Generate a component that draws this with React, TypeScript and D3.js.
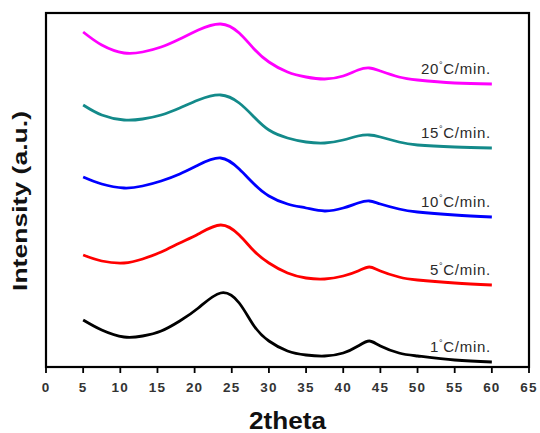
import * as d3 from 'd3';

// 2theta sample points (deg)
const twoTheta = [5, 7.5, 10.5, 13, 15.5, 18, 20.5, 23.5, 26, 28, 30, 32.5, 35, 37.5, 40, 42, 43.5, 45, 47.5, 50, 55, 60];

// stacked intensities (a.u.)
const rate1 = [47, 37, 30, 31, 36, 46, 59, 74, 64, 41, 26, 16, 12, 11, 14, 21, 26, 21, 14, 11, 7, 5];
const rate5 = [112, 106, 104, 108, 115, 124, 133, 142, 132, 116, 104, 94, 89, 88, 91, 96, 100, 96, 90, 87, 84, 82];
const rate10 = [190, 183, 179, 181, 186, 193, 202, 209, 198, 183, 171, 163, 159, 156, 159, 164, 166, 163, 158, 155, 152, 150];
const rate15 = [262, 252, 247, 248, 252, 259, 267, 272, 264, 250, 237, 229, 225, 224, 227, 231, 232, 230, 225, 222, 220, 219];
const rate20 = [335, 322, 314, 315, 320, 328, 337, 343, 334, 318, 305, 295, 290, 288, 291, 297, 299, 296, 290, 287, 284, 283];

const rates = ['1', '5', '10', '15', '20'];
const seriesValues = [rate1, rate5, rate10, rate15, rate20];
const colors = ['#000000', '#ff0000', '#0000ff', '#138a8a', '#ff00ff'];
const xTicks = d3.range(0, 66, 5);

export default function App() {
  const width = 540;
  const height = 433;
  const margin = { top: 13, right: 11, bottom: 66, left: 46 };

  const x = d3.scaleLinear().domain([0, 65]).range([margin.left, width - margin.right]);
  const y = d3.scaleLinear().domain([0, 354]).range([height - margin.bottom, margin.top]);

  const line = d3
    .line<number>()
    .x((_, i) => x(twoTheta[i]))
    .y((d) => y(d))
    .curve(d3.curveNatural);

  const x0 = margin.left;
  const x1 = width - margin.right;
  const y0 = height - margin.bottom;
  const y1 = margin.top;

  return (
    <svg
      width={width}
      height={height}
      style={{ position: 'absolute', left: 0, top: 0, background: '#fff' }}
      fontFamily="Arial, 'Liberation Sans', sans-serif"
    >
      {/* curves */}
      {seriesValues.map((vals, k) => (
        <path
          key={rates[k]}
          d={line(vals) ?? ''}
          fill="none"
          stroke={colors[k]}
          strokeWidth={2.8}
          strokeLinejoin="round"
        />
      ))}

      {/* labels */}
      {seriesValues.map((vals, k) => (
        <text
          key={'l' + rates[k]}
          x={x(60) - 1}
          y={y(vals[vals.length - 1]) - 10}
          textAnchor="end"
          fontSize={15}
          fill="#2a2a2a"
          letterSpacing={0.7}
        >
          {rates[k]}
          <tspan fontSize={9} dy={-6}>°</tspan>
          <tspan dy={6}>C/min.</tspan>
        </text>
      ))}

      {/* frame */}
      <rect x={x0} y={y1} width={x1 - x0} height={y0 - y1} fill="none" stroke="#000" strokeWidth={2.2} />

      {/* x ticks */}
      {xTicks.map((t) => (
        <g key={t}>
          <line x1={x(t)} x2={x(t)} y1={y0} y2={y0 + 6} stroke="#000" strokeWidth={1.8} />
          <text
            x={x(t)}
            y={y0 + 25}
            textAnchor="middle"
            fontSize={13.5}
            fontWeight="bold"
            fill="#333"
            letterSpacing={1.2}
          >
            {t}
          </text>
        </g>
      ))}

      {/* axis titles */}
      <text
        x={(x0 + x1) / 2}
        y={429}
        textAnchor="middle"
        fontSize={23}
        fontWeight="bold"
        fill="#111"
        textLength={77}
        lengthAdjust="spacingAndGlyphs"
      >
        2theta
      </text>
      <text
        transform={`translate(27, ${201}) rotate(-90)`}
        textAnchor="middle"
        fontSize={21}
        fontWeight="bold"
        fill="#111"
        textLength={180}
        lengthAdjust="spacingAndGlyphs"
      >
        Intensity (a.u.)
      </text>
    </svg>
  );
}
